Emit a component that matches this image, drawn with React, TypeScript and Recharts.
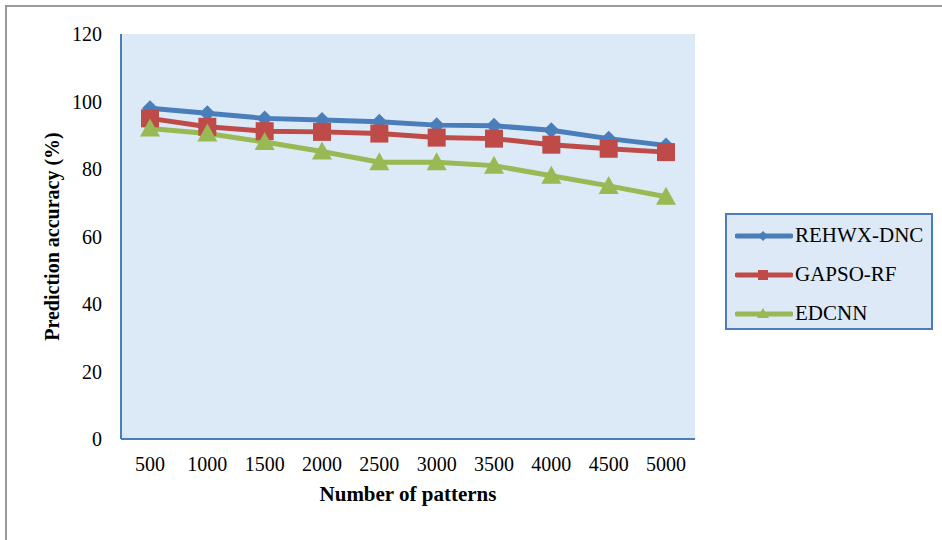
import React from "react";
import { LineChart, Line, XAxis, YAxis, CartesianGrid } from "recharts";

const categories = ["500", "1000", "1500", "2000", "2500", "3000", "3500", "4000", "4500", "5000"];
const rehwx = [98, 96.5, 95, 94.5, 94, 93, 92.8, 91.5, 89, 87];
const gapso = [95, 92.5, 91.2, 91, 90.5, 89.3, 89, 87.2, 86, 85];
const edcnn = [92, 90.5, 88, 85.2, 82, 82, 81, 78, 75, 71.8];
const yTicks = [0, 20, 40, 60, 80, 100, 120];

const data = categories.map((c, i) => ({ x: c, rehwx: rehwx[i], gapso: gapso[i], edcnn: edcnn[i] }));

const BLUE = "#4a7ebb";
const RED = "#be4b48";
const GREEN = "#98b954";
const FONT = "'Liberation Serif', 'Times New Roman', serif";

const Diamond = (props: any) => {
  const { cx, cy } = props;
  if (cx == null || cy == null) return null;
  const r = 8;
  return <polygon key={`d${cx}`} points={`${cx},${cy - r} ${cx + r},${cy} ${cx},${cy + r} ${cx - r},${cy}`} fill={BLUE} />;
};
const Square = (props: any) => {
  const { cx, cy } = props;
  if (cx == null || cy == null) return null;
  const s = 9;
  return <rect key={`s${cx}`} x={cx - s} y={cy - s} width={2 * s} height={2 * s} fill={RED} />;
};
const Triangle = (props: any) => {
  const { cx, cy } = props;
  if (cx == null || cy == null) return null;
  const r = 10;
  return <polygon key={`t${cx}`} points={`${cx},${cy - r} ${cx + r},${cy + r * 0.8} ${cx - r},${cy + r * 0.8}`} fill={GREEN} />;
};

const legendItems = [
  { name: "REHWX-DNC", color: BLUE, shape: "diamond" },
  { name: "GAPSO-RF", color: RED, shape: "square" },
  { name: "EDCNN", color: GREEN, shape: "triangle" },
];

const LegendBox = () => (
  <div
    style={{
      position: "absolute",
      left: 725,
      top: 213,
      width: 208,
      height: 117,
      border: `2px solid ${BLUE}`,
      background: "#dde9f6",
      boxSizing: "border-box",
      fontFamily: FONT,
      fontSize: 21,
      color: "#000",
      paddingTop: 1,
    }}
  >
    {legendItems.map((it) => (
      <div key={it.name} style={{ display: "flex", alignItems: "center", height: 39, paddingLeft: 8 }}>
        <svg width={58} height={16} style={{ marginRight: 2 }}>
          <line x1={2} y1={8} x2={56} y2={8} stroke={it.color} strokeWidth={5} strokeLinecap="round" />
          {it.shape === "diamond" && <polygon points="28,3 33,8 28,13 23,8" fill={it.color} />}
          {it.shape === "square" && <rect x={23} y={3} width={10} height={10} fill={it.color} />}
          {it.shape === "triangle" && <polygon points="28,2 34,12 22,12" fill={it.color} />}
        </svg>
        <span>{it.name}</span>
      </div>
    ))}
  </div>
);

export default function App() {
  return (
    <div style={{ position: "absolute", left: 0, top: 0, width: 942, height: 540, overflow: "hidden", background: "#fff" }}>
      <div
        style={{
          position: "absolute",
          left: 5,
          top: 5,
          width: 980,
          height: 600,
          borderLeft: "2px solid #9a9a9a",
          borderTop: "2px solid #9a9a9a",
        }}
      />
      <div style={{ position: "absolute", left: 0, top: 0 }}>
        <LineChart width={942} height={540} data={data} margin={{ top: 34, right: 247, bottom: 0, left: 0 }}>
          <CartesianGrid horizontal={false} vertical={false} fill="#dce9f7" />
          <XAxis
            dataKey="x"
            height={101}
            padding={{ left: 29, right: 29 }}
            tickLine={false}
            axisLine={{ stroke: BLUE, strokeWidth: 2 }}
            tick={{ fontFamily: FONT, fontSize: 20, fill: "#000" }}
            tickMargin={12}
            interval={0}
            label={{ value: "Number of patterns", position: "insideTop", offset: 47, fontFamily: FONT, fontSize: 21, fontWeight: "bold", fill: "#000" }}
          />
          <XAxis xAxisId="top" orientation="top" dataKey="x" height={0} tick={false} tickLine={false} axisLine={{ stroke: BLUE, strokeWidth: 2 }} />
          <YAxis
            width={121}
            domain={[0, 120]}
            ticks={yTicks}
            tickLine={false}
            axisLine={{ stroke: BLUE, strokeWidth: 2 }}
            tick={{ fontFamily: FONT, fontSize: 20, fill: "#000" }}
            tickMargin={13}
            label={{ value: "Prediction accuracy (%)", angle: -90, position: "insideLeft", offset: 52, style: { textAnchor: "middle" }, fontFamily: FONT, fontSize: 20, fontWeight: "bold", fill: "#000" }}
          />
          <YAxis yAxisId="right" orientation="right" width={0} domain={[0, 120]} tick={false} tickLine={false} axisLine={{ stroke: BLUE, strokeWidth: 2 }} />
          <Line dataKey="rehwx" name="REHWX-DNC" stroke={BLUE} strokeWidth={5} dot={<Diamond />} isAnimationActive={false} />
          <Line dataKey="gapso" name="GAPSO-RF" stroke={RED} strokeWidth={5} dot={<Square />} isAnimationActive={false} />
          <Line dataKey="edcnn" name="EDCNN" stroke={GREEN} strokeWidth={5} dot={<Triangle />} isAnimationActive={false} />
        </LineChart>
      </div>
      <LegendBox />
    </div>
  );
}
